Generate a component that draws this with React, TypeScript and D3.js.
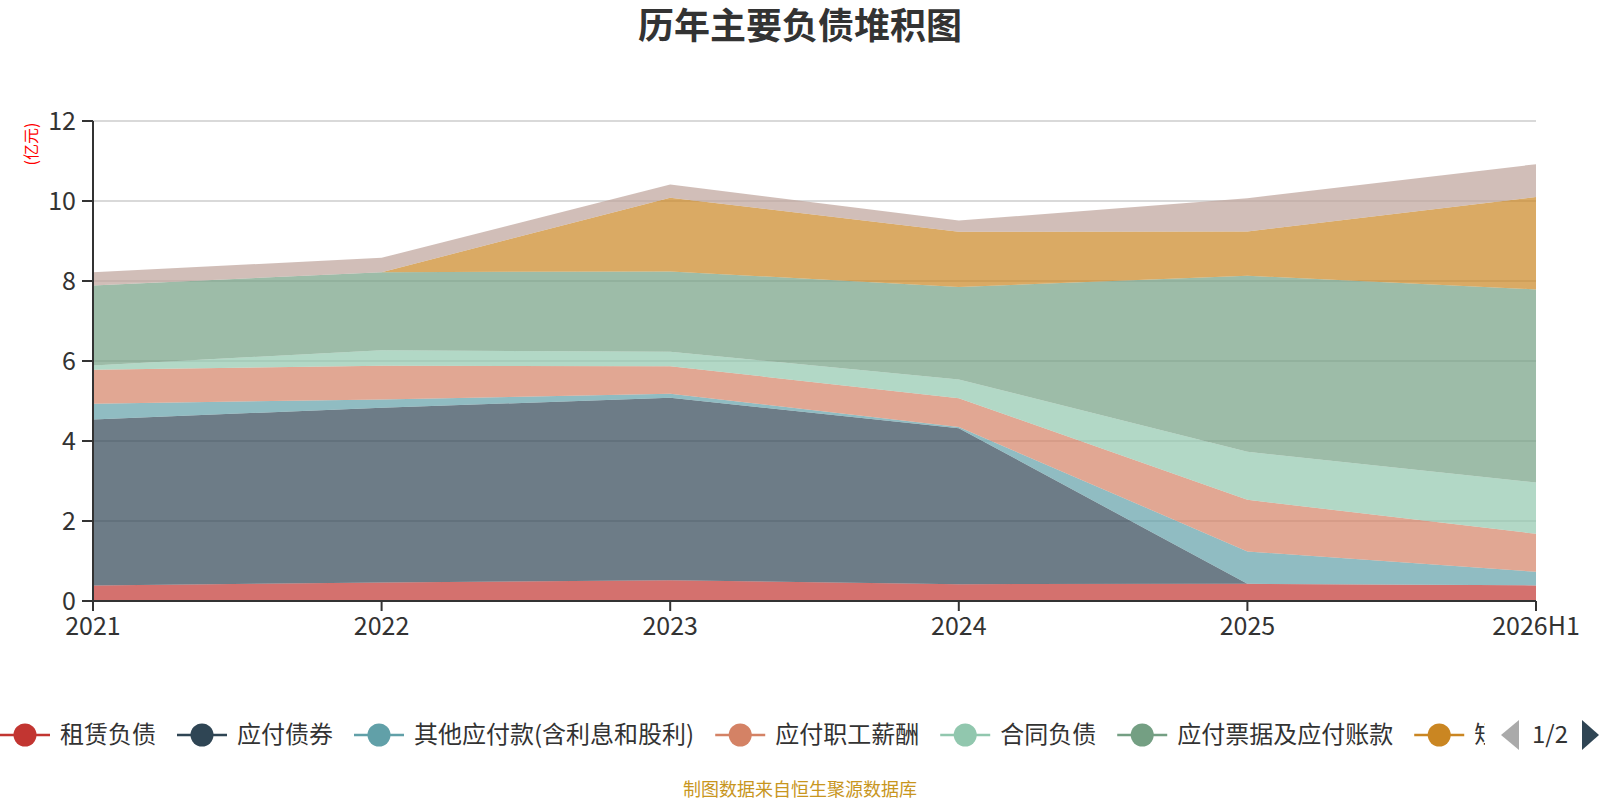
import React, { useMemo } from 'react';
import * as d3 from 'd3';

// ---- data ----
const categories = ['2021', '2022', '2023', '2024', '2025', '2026H1'];
const seriesNames = [
  '租赁负债',
  '应付债券',
  '其他应付款(含利息和股利)',
  '应付职工薪酬',
  '合同负债',
  '应付票据及应付账款',
  '短期借款',
  '一年内到期的非流动负债',
];
const seriesColors = ['#c23531', '#2f4554', '#61a0a8', '#d48265', '#91c7ae', '#749f83', '#ca8622', '#bda29a'];
const leaseLiabilities = [0.39, 0.46, 0.52, 0.42, 0.43, 0.39];
const bondsPayable = [4.15, 4.37, 4.56, 3.9, 0, 0];
const otherPayables = [0.39, 0.21, 0.1, 0.03, 0.81, 0.34];
const payrollPayable = [0.85, 0.84, 0.69, 0.72, 1.29, 0.95];
const contractLiabilities = [0.11, 0.39, 0.36, 0.47, 1.2, 1.28];
const notesAndAccountsPayable = [2.0, 1.95, 2.01, 2.31, 4.4, 4.83];
const shortTermLoans = [0, 0, 1.84, 1.38, 1.11, 2.31];
const currentNonCurrentLiab = [0.33, 0.36, 0.33, 0.28, 0.83, 0.82];
const seriesValues = [
  leaseLiabilities,
  bondsPayable,
  otherPayables,
  payrollPayable,
  contractLiabilities,
  notesAndAccountsPayable,
  shortTermLoans,
  currentNonCurrentLiab,
];
const yTicks = [0, 2, 4, 6, 8, 10, 12];
const titleText = '历年主要负债堆积图';
const unitText = '(亿元)';
const sourceText = '制图数据来自恒生聚源数据库';
const pageText = '1/2';

const FONT = "'Microsoft YaHei', 'Noto Sans CJK SC', 'Noto Sans', sans-serif";

export default function App() {
  const W = 1600;
  const H = 800;
  const left = 93;
  const right = 1536;
  const top = 121;
  const bottom = 601;

  const x = d3.scalePoint<string>().domain(categories).range([left, right]);
  const y = d3.scaleLinear().domain([0, 12]).range([bottom, top]);

  const rows = categories.map((c, i) => {
    const r: Record<string, number | string> = { cat: c };
    seriesNames.forEach((n, s) => (r[n] = seriesValues[s][i]));
    return r;
  });
  const stacked = d3.stack<any>().keys(seriesNames)(rows as any);
  const area = d3
    .area<any>()
    .x((d) => x(d.data.cat) as number)
    .y0((d) => y(d[0]))
    .y1((d) => y(d[1]));

  // legend layout
  const legendFont = 24;
  const textWidths = useMemo(() => {
    const canvas = document.createElement('canvas');
    const ctx = canvas.getContext('2d');
    if (!ctx) return seriesNames.map((n) => n.length * legendFont);
    ctx.font = `${legendFont}px ${FONT}`;
    return seriesNames.map((n) => ctx.measureText(n).width);
  }, []);
  const iconW = 50;
  const iconGap = 10;
  const itemGap = 21;
  const legendItems: { x: number; name: string; color: string }[] = [];
  let lx = 0;
  seriesNames.forEach((n, i) => {
    legendItems.push({ x: lx, name: n, color: seriesColors[i] });
    lx += iconW + iconGap + textWidths[i] + itemGap;
  });
  const legendY = 735;
  const legendClip = 1485;

  return (
    <svg
      width={W}
      height={H}
      style={{ position: 'absolute', left: 0, top: 0, fontFamily: FONT }}
    >
      <defs>
        <clipPath id="legendClip">
          <rect x={0} y={legendY - 30} width={legendClip} height={60} />
        </clipPath>
      </defs>
      <rect x={0} y={0} width={W} height={H} fill="#fff" />
      {/* title */}
      <text x={800} y={26} dy="0.35em" textAnchor="middle" fontSize={36} fontWeight="bold" fill="#333">
        {titleText}
      </text>
      {/* grid lines */}
      {yTicks
        .filter((t) => t > 0)
        .map((t) => (
          <line key={t} x1={left} x2={right} y1={y(t)} y2={y(t)} stroke="#ccc" strokeWidth={1.6} />
        ))}
      {/* areas */}
      {stacked.map((s, i) => (
        <path key={s.key} d={area(s as any) || ''} fill={seriesColors[i]} fillOpacity={0.7} stroke="none" />
      ))}
      {/* y axis */}
      <line x1={left} x2={left} y1={top} y2={bottom} stroke="#333" strokeWidth={2} />
      {yTicks.map((t) => (
        <g key={t}>
          <line x1={left - 11} x2={left} y1={y(t)} y2={y(t)} stroke="#333" strokeWidth={2} />
          <text x={left - 17} y={y(t)} dy="0.35em" textAnchor="end" fontSize={25} fill="#333">
            {t}
          </text>
        </g>
      ))}
      <text
        transform={`translate(31, 144) rotate(-90)`}
        textAnchor="middle"
        dy="0.35em"
        fontSize={16}
        fill="#ff0000"
      >
        {unitText}
      </text>
      {/* x axis */}
      <line x1={left} x2={right} y1={bottom} y2={bottom} stroke="#333" strokeWidth={2} />
      {categories.map((c) => (
        <g key={c}>
          <line x1={x(c)} x2={x(c)} y1={bottom} y2={bottom + 10} stroke="#333" strokeWidth={2} />
          <text x={x(c)} y={626} dy="0.35em" textAnchor="middle" fontSize={25} fill="#333">
            {c}
          </text>
        </g>
      ))}
      {/* legend */}
      <g clipPath="url(#legendClip)">
        {legendItems.map((it) => (
          <g key={it.name}>
            <line x1={it.x} x2={it.x + iconW} y1={legendY} y2={legendY} stroke={it.color} strokeWidth={2.5} />
            <circle cx={it.x + iconW / 2} cy={legendY} r={11.5} fill={it.color} />
            <text x={it.x + iconW + iconGap} y={legendY} dy="0.35em" fontSize={legendFont} fill="#333">
              {it.name}
            </text>
          </g>
        ))}
      </g>
      {/* pager */}
      <path d={`M1519,${legendY - 15}L1501,${legendY}L1519,${legendY + 15}Z`} fill="#aaa" />
      <text x={1550} y={legendY} dy="0.35em" textAnchor="middle" fontSize={24} fill="#333">
        {pageText}
      </text>
      <path d={`M1582,${legendY - 15}L1599,${legendY}L1582,${legendY + 15}Z`} fill="#2f4554" />
      {/* source */}
      <text x={800} y={790} dy="0.35em" textAnchor="middle" fontSize={18} fill="#c8961e">
        {sourceText}
      </text>
    </svg>
  );
}
